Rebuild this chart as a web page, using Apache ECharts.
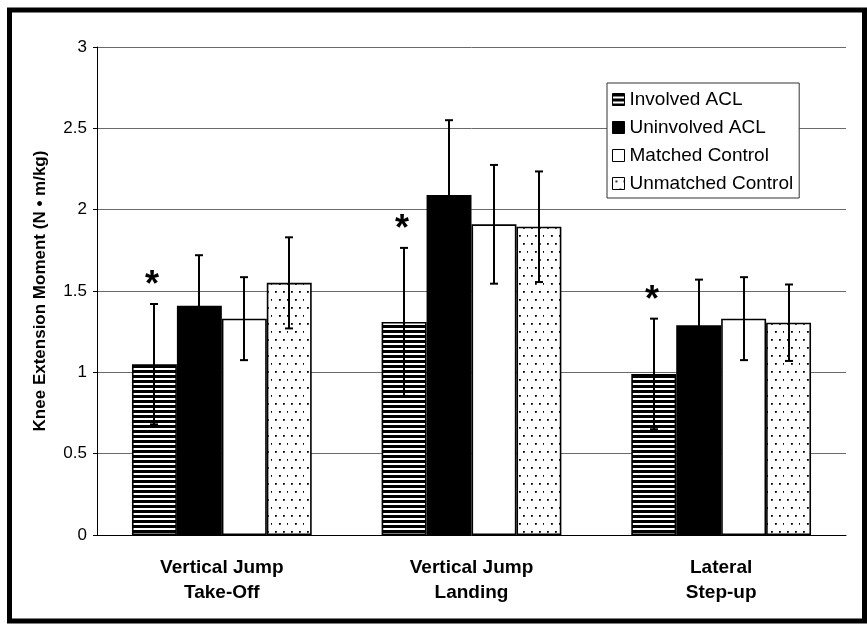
<!DOCTYPE html>
<html>
<head>
<meta charset="utf-8">
<script src="https://cdn.jsdelivr.net/npm/echarts@6/dist/echarts.min.js"></script>
<style>
html,body{margin:0;padding:0;background:#fff;}
#chart{width:867px;height:624px;}
</style>
</head>
<body>
<div id="chart"></div>
<script>
const categories = ['Vertical Jump\nTake-Off', 'Vertical Jump\nLanding', 'Lateral\nStep-up'];
const seriesNames = ['Involved ACL', 'Uninvolved ACL', 'Matched Control', 'Unmatched Control'];
const involvedACL = [1.05, 1.31, 0.99];
const uninvolvedACL = [1.41, 2.09, 1.29];
const matchedControl = [1.33, 1.91, 1.33];
const unmatchedControl = [1.55, 1.895, 1.305];
const involvedSD = [0.37, 0.455, 0.34];
const uninvolvedSD = [0.31, 0.46, 0.28];
const matchedSD = [0.255, 0.365, 0.255];
const unmatchedSD = [0.28, 0.34, 0.235];
const significant = [true, true, true]; // * : Involved ACL differs
const yTicks = [0, 0.5, 1, 1.5, 2, 2.5, 3];

const values = [involvedACL, uninvolvedACL, matchedControl, unmatchedControl];
const sds = [involvedSD, uninvolvedSD, matchedSD, unmatchedSD];

function stripeCanvas() {
  const c = document.createElement('canvas');
  c.width = 8; c.height = 5;
  const g = c.getContext('2d');
  g.fillStyle = '#000'; g.fillRect(0, 0, 8, 5);
  g.fillStyle = '#fff'; g.fillRect(0, 3, 8, 2);
  return c;
}
function dotCanvas() {
  const c = document.createElement('canvas');
  c.width = 16; c.height = 16;
  const g = c.getContext('2d');
  g.fillStyle = '#fff'; g.fillRect(0, 0, 16, 16);
  g.fillStyle = '#000';
  [[3, 3], [11, 3], [7, 11], [15, 11]].forEach(p => g.fillRect(p[0], p[1], 1.8, 1.8));
  return c;
}
const fills = [
  { image: stripeCanvas(), repeat: 'repeat' },
  '#000',
  '#fff',
  { image: dotCanvas(), repeat: 'repeat' }
];

const BAR_FRAC = 0.18;
const errData = [];
values.forEach((arr, si) => arr.forEach((v, ci) => errData.push([ci, si, v, sds[si][ci]])));

const chart = echarts.init(document.getElementById('chart'), null, { renderer: 'canvas' });
const FONT = 'Liberation Sans, Arial, sans-serif';

const barSeries = seriesNames.map((name, si) => ({
  name: name,
  type: 'bar',
  data: values[si],
  barWidth: (BAR_FRAC * 100) + '%',
  barGap: '0%',
  itemStyle: { color: fills[si], borderColor: '#000', borderWidth: 1.6 },
  emphasis: { disabled: true },
  z: 2
}));

const errSeries = {
  type: 'custom',
  coordinateSystem: 'cartesian2d',
  data: errData,
  encode: { x: 0, y: 2 },
  silent: true,
  z: 5,
  renderItem: function (params, api) {
    const ci = api.value(0), si = api.value(1), v = api.value(2), sd = api.value(3);
    const c = api.coord([ci, v]);
    const band = api.size([1, 0])[0];
    const bw = band * BAR_FRAC;
    const x = Math.round(c[0] + (si - 1.5) * bw);
    const yt = api.coord([ci, v + sd])[1];
    const yb = api.coord([ci, v - sd])[1];
    const st = { stroke: '#000', lineWidth: 2 };
    const children = [
      { type: 'line', shape: { x1: x, y1: yt, x2: x, y2: yb }, style: st },
      { type: 'line', shape: { x1: x - 4, y1: yt, x2: x + 4, y2: yt }, style: st },
      { type: 'line', shape: { x1: x - 4, y1: yb, x2: x + 4, y2: yb }, style: st }
    ];
    if (si === 0 && significant[ci]) {
      children.push({
        type: 'text',
        style: {
          text: '*', x: x - 2, y: yt - 18,
          font: 'bold 36px ' + FONT, fill: '#000',
          align: 'center', verticalAlign: 'middle'
        }
      });
    }
    return { type: 'group', children: children };
  }
};

chart.setOption({
  animation: false,
  backgroundColor: '#fff',
  textStyle: { fontFamily: FONT },
  grid: { left: 97, right: 21, top: 47, bottom: 89, containLabel: false },
  legend: {
    data: seriesNames,
    orient: 'vertical',
    left: 607,
    top: 83,
    itemWidth: 12,
    itemHeight: 12,
    itemGap: 9,
    icon: 'rect',
    padding: [7, 6, 5, 5],
    backgroundColor: '#fff',
    borderColor: '#333',
    borderWidth: 1,
    borderRadius: 0,
    selectedMode: false,
    itemStyle: { borderColor: '#000', borderWidth: 1 },
    textStyle: { fontSize: 19, color: '#000', fontFamily: FONT }
  },
  xAxis: {
    type: 'category',
    data: categories,
    axisLine: { show: true, lineStyle: { color: '#000', width: 1 } },
    axisTick: { show: false },
    axisLabel: {
      color: '#000', fontSize: 19, fontWeight: 'bold', lineHeight: 25,
      margin: 20, fontFamily: FONT, interval: 0
    },
    splitLine: { show: false }
  },
  yAxis: {
    type: 'value',
    min: yTicks[0],
    max: yTicks[yTicks.length - 1],
    interval: 0.5,
    name: 'Knee Extension Moment (N • m/kg)',
    nameLocation: 'middle',
    nameGap: 48,
    nameTextStyle: { color: '#000', fontSize: 17, fontWeight: 'bold', fontFamily: FONT },
    axisLine: { show: true, lineStyle: { color: '#000', width: 1 } },
    axisTick: { show: true, length: 4, lineStyle: { color: '#000' } },
    axisLabel: { color: '#000', fontSize: 17, margin: 10, fontFamily: FONT },
    splitLine: { show: true, lineStyle: { color: '#6a6a6a', width: 1 } }
  },
  series: barSeries.concat([errSeries]),
  graphic: [{
    type: 'rect',
    shape: { x: 9.5, y: 10, width: 855, height: 611 },
    style: { fill: 'none', stroke: '#000', lineWidth: 5 },
    silent: true,
    z: 100
  }]
});
</script>
</body>
</html>
